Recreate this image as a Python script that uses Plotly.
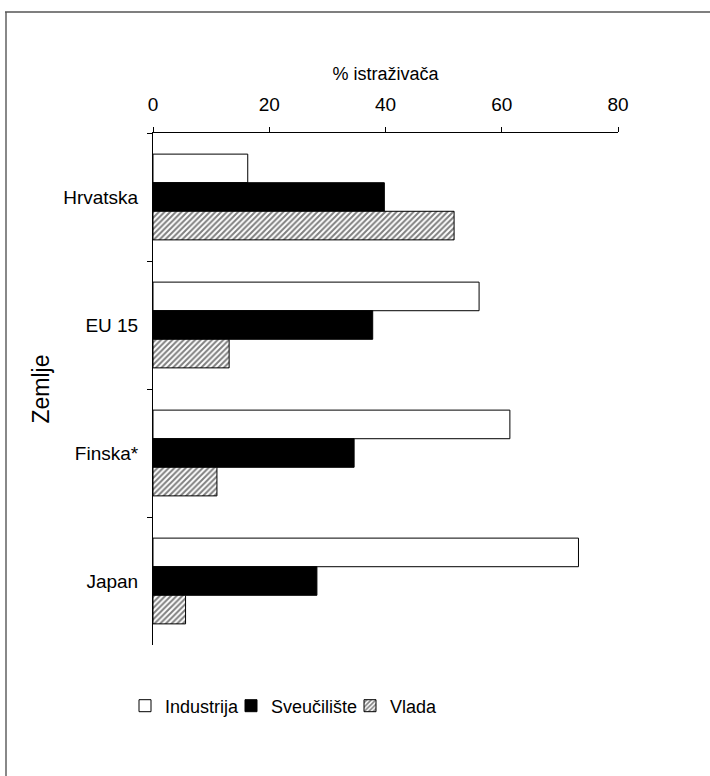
import plotly.graph_objects as go

countries = ["Hrvatska", "EU 15", "Finska*", "Japan"]
industrija = [16.3, 56.1, 61.4, 73.2]
sveuciliste = [39.8, 37.8, 34.6, 28.2]
vlada = [51.8, 13.1, 11.0, 5.6]
x_ticks = [0, 20, 40, 60, 80]

W, H = 710, 776
L, R, T, B = 153, 92, 133, 131
pw, ph = W - L - R, H - T - B
FONT = "Liberation Sans, Arial, sans-serif"
FS = 19


def px(x):
    return (x - L) / pw


def py(y):
    return (H - B - y) / ph


fig = go.Figure()
fig.add_trace(go.Bar(
    y=countries, x=industrija, orientation="h", name="Industrija", legend="legend",
    marker=dict(color="white", line=dict(color="black", width=1)),
))
fig.add_trace(go.Bar(
    y=countries, x=sveuciliste, orientation="h", name="Sveučilište", legend="legend2",
    marker=dict(color="black", line=dict(color="black", width=1)),
))
fig.add_trace(go.Bar(
    y=countries, x=vlada, orientation="h", name="Vlada", legend="legend3",
    marker=dict(color="white", line=dict(color="black", width=1),
                pattern=dict(shape="/", fgcolor="black", bgcolor="white",
                             size=4, solidity=0.5)),
))

leg_common = dict(orientation="h", xanchor="left", yanchor="middle", y=py(706),
                  font=dict(size=18, family=FONT, color="black"), itemwidth=30,
                  bgcolor="rgba(0,0,0,0)", borderwidth=0)

fig.update_layout(
    width=W, height=H,
    margin=dict(l=L, r=R, t=T, b=B, pad=0),
    paper_bgcolor="white", plot_bgcolor="white",
    font=dict(family=FONT, size=FS, color="black"),
    barmode="group", bargap=0.33, bargroupgap=0,
    showlegend=True,
    legend=dict(x=px(125), **leg_common),
    legend2=dict(x=px(231), **leg_common),
    legend3=dict(x=px(350), **leg_common),
    xaxis=dict(
        side="top", range=[0, 80], tickvals=x_ticks, ticktext=[str(v) for v in x_ticks],
        showline=True, linecolor="black", linewidth=1,
        ticks="outside", ticklen=5, tickcolor="black", ticklabelstandoff=8,
        showgrid=False, zeroline=False,
        title=dict(text="% istraživača", standoff=9, font=dict(size=18)),
    ),
    yaxis=dict(
        autorange="reversed", type="category",
        showline=True, linecolor="black", linewidth=1,
        ticks="outside", ticklen=5, tickcolor="black", tickson="boundaries",
        ticklabelstandoff=10,
        showgrid=False, zeroline=False,
        title=dict(text="Zemlje", standoff=7),
    ),
    shapes=[
        dict(type="line", xref="paper", yref="paper",
             x0=px(6), x1=px(6), y0=py(12), y1=py(776),
             line=dict(color="#888888", width=2)),
        dict(type="line", xref="paper", yref="paper",
             x0=px(5), x1=px(712), y0=py(12), y1=py(12),
             line=dict(color="#555555", width=1.5)),
    ],
)

fig.write_html("out.html", config={"displayModeBar": False},
               post_script="document.body.style.margin='0';")
